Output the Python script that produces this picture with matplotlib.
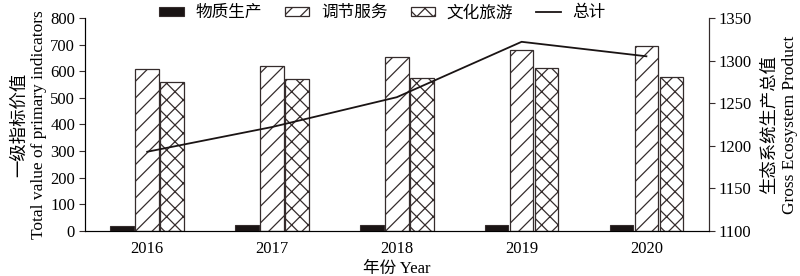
import matplotlib.pyplot as plt
import numpy as np

years = ["2016", "2017", "2018", "2019", "2020"]
wuzhi = [20, 22, 21, 24, 22]          # 物质生产
tiaojie = [608, 621, 653, 678, 696]   # 调节服务
wenhua = [560, 570, 574, 613, 578]    # 文化旅游
zongji = [1193, 1222, 1257, 1322, 1305]  # 总计 (right axis)

plt.rcParams['font.family'] = ['Liberation Serif', 'Noto Sans CJK SC']
plt.rcParams['font.size'] = 12
plt.rcParams['hatch.linewidth'] = 0.9
plt.rcParams['hatch.color'] = '#352c2c'

edge = '#352c2c'
x = np.arange(len(years))
w = 0.19

fig = plt.figure(figsize=(8, 2.76), dpi=100)
ax = fig.add_axes([0.106, 0.163, 0.78, 0.772])

b1 = ax.bar(x - 0.2, wuzhi, w, color='#1a1414', edgecolor=edge, linewidth=0.8, label='物质生产')
b2 = ax.bar(x, tiaojie, w, color='white', edgecolor=edge, hatch='//', linewidth=0.9, label='调节服务')
b3 = ax.bar(x + 0.2, wenhua, w, color='white', edgecolor=edge, hatch='xx', linewidth=0.9, label='文化旅游')

ax.set_xlim(-0.5, 4.5)
ax.set_ylim(0, 800)
ax.set_yticks(range(0, 801, 100))
ax.set_xticks(x)
ax.set_xticklabels(years)
ax.tick_params(axis='x', length=0, pad=7)
ax.tick_params(axis='y', direction='out', length=4, width=0.8, color=edge, pad=3)
ax.spines['top'].set_visible(False)
for s in ['left', 'bottom', 'right']:
    ax.spines[s].set_color(edge)
    ax.spines[s].set_linewidth(0.8)
ax.set_xlabel('年份 Year', labelpad=3)
ax.set_ylabel('一级指标价值\nTotal value of primary indicators', linespacing=1.3, labelpad=2,
              fontsize=12.5)

ax2 = ax.twinx()
l1, = ax2.plot(x, zongji, color='#1a1414', linewidth=1.3, label='总计')
ax2.set_ylim(1100, 1350)
ax2.set_yticks(range(1100, 1351, 50))
ax2.tick_params(axis='y', direction='out', length=4, width=0.8, color=edge, pad=3)
ax2.spines['top'].set_visible(False)
ax2.spines['right'].set_color(edge)
ax2.spines['right'].set_linewidth(0.8)
ax2.set_ylabel('生态系统生产总值\nGross Ecosystem Product', linespacing=1.3, labelpad=7,
               fontsize=12.5)

fig.legend(handles=[b1, b2, b3, l1], loc='upper center', bbox_to_anchor=(0.478, 1.035),
           ncol=4, frameon=False, handlelength=1.45, handleheight=0.45,
           columnspacing=1.4, handletextpad=0.7, fontsize=12)

fig.savefig('out.png', dpi=100)
